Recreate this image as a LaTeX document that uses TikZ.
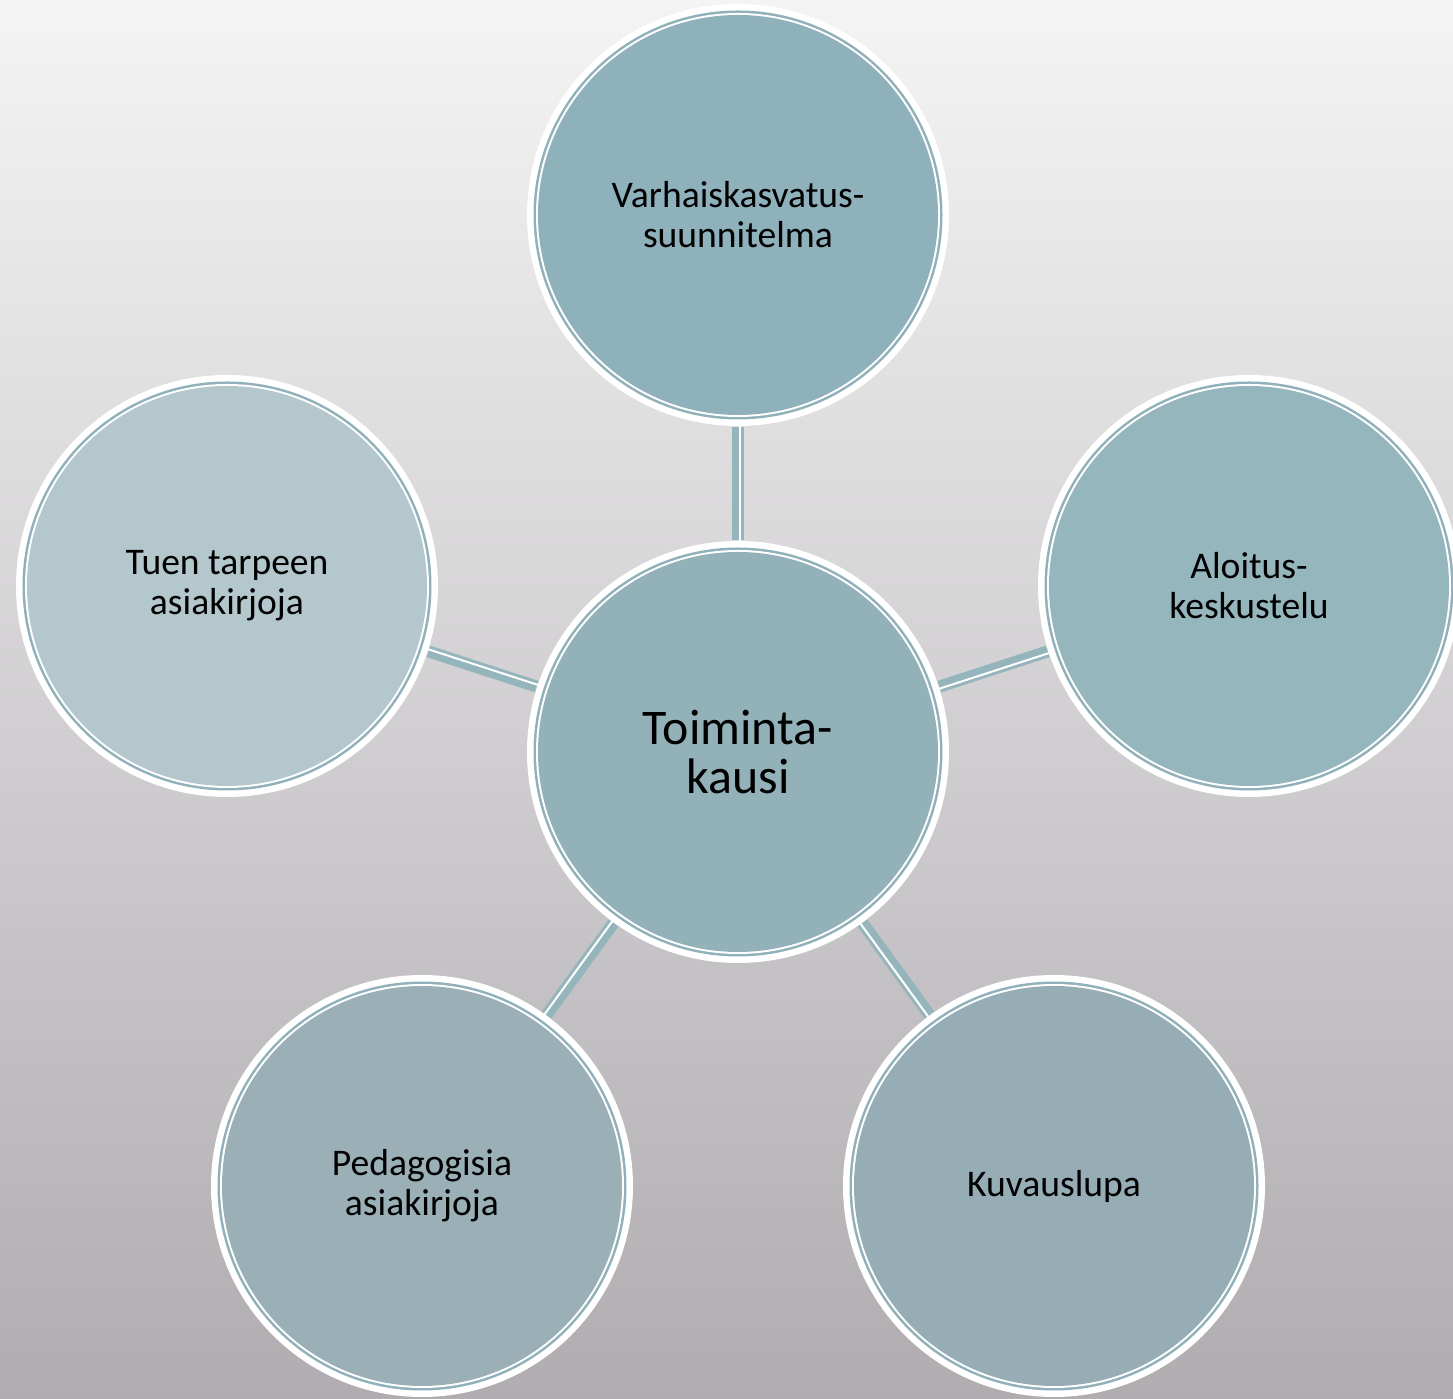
\documentclass[tikz,border=0pt]{standalone}
\usepackage{fontspec}
\setmainfont{Carlito}
\usetikzlibrary{calc}
\definecolor{BgTop}{HTML}{F4F4F4}
\definecolor{BgBottom}{HTML}{B0ACB0}
\definecolor{LinkTeal}{HTML}{95B5BC}
\definecolor{RingTeal}{HTML}{90B1B9}
\definecolor{FillMid}{HTML}{92B1B9}
\definecolor{FillTop}{HTML}{8EB1BB}
\definecolor{FillRight}{HTML}{96B6BD}
\definecolor{FillLeft}{HTML}{B4C7CC}
\definecolor{FillBL}{HTML}{9AB0B6}
\definecolor{FillBR}{HTML}{96ADB5}
\pgfdeclarelayer{backdrop}
\pgfdeclarelayer{links}
\pgfsetlayers{backdrop,links,main}

\begin{document}
\begin{tikzpicture}
  \tikzstyle{LinkStyle}=[draw=LinkTeal,line width=0.12cm]
  \tikzstyle{GapStyle}=[draw=white,line width=0.02cm]
  \tikzset{Bubble/.style={circle,minimum size=4.22cm,inner sep=0pt,
      fill=white,align=center,font=\fontsize{10.7}{11.4}\selectfont,
      path picture={
        \fill[RingTeal] (path picture bounding box.center) circle (2.045cm);
        \fill[white] (path picture bounding box.center) circle (2.02cm);
        \fill[#1] (path picture bounding box.center) circle (2cm);}}}
  \useasboundingbox (-7.38,-6.46) rectangle (7.15,7.52);
  \begin{pgfonlayer}{backdrop}
    \shade[top color=BgTop,bottom color=BgBottom] (-7.38,-6.46) rectangle (7.15,7.52);
  \end{pgfonlayer}
  \node[Bubble=FillMid,font=\fontsize{14.2}{13.7}\selectfont] (Kausi) at (0,0) {Toiminta-\\kausi};
  \node[Bubble=FillTop] (Vasu) at (0,5.37) {Varhaiskasvatus-\\suunnitelma};
  \node[Bubble=FillRight] (Aloitus) at (5.11,1.66) {Aloitus-\\keskustelu};
  \node[Bubble=FillBR] (Kuvaus) at (3.16,-4.34) {Kuvauslupa};
  \node[Bubble=FillBL] (Pedagogia) at (-3.16,-4.34) {Pedagogisia\\asiakirjoja};
  \node[Bubble=FillLeft] (Tuki) at (-5.11,1.66) {Tuen tarpeen\\asiakirjoja};
  \begin{pgfonlayer}{links}
    \draw[LinkStyle] (Kausi) -- (Vasu);
    \draw[GapStyle] ($(Kausi)!0.02cm!-90:(Vasu)$) -- ($(Vasu)!0.02cm!90:(Kausi)$);
    \draw[LinkStyle] (Kausi) -- (Aloitus);
    \draw[GapStyle] ($(Kausi)!0.02cm!-90:(Aloitus)$) -- ($(Aloitus)!0.02cm!90:(Kausi)$);
    \draw[LinkStyle] (Kausi) -- (Kuvaus);
    \draw[GapStyle] ($(Kausi)!0.02cm!-90:(Kuvaus)$) -- ($(Kuvaus)!0.02cm!90:(Kausi)$);
    \draw[LinkStyle] (Kausi) -- (Pedagogia);
    \draw[GapStyle] ($(Kausi)!0.02cm!-90:(Pedagogia)$) -- ($(Pedagogia)!0.02cm!90:(Kausi)$);
    \draw[LinkStyle] (Kausi) -- (Tuki);
    \draw[GapStyle] ($(Kausi)!0.02cm!-90:(Tuki)$) -- ($(Tuki)!0.02cm!90:(Kausi)$);
  \end{pgfonlayer}
\end{tikzpicture}
\end{document}
